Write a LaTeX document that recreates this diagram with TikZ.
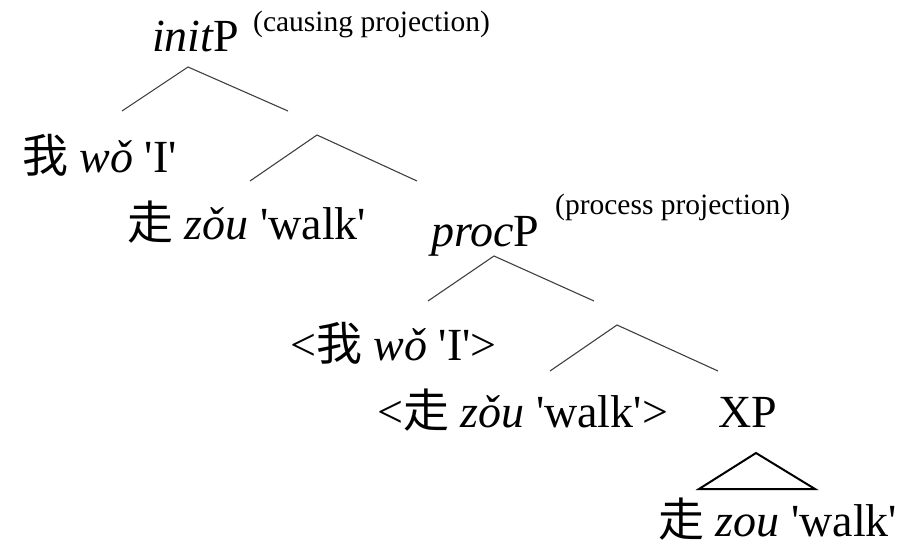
\documentclass[tikz,border=0pt]{standalone}
\usepackage{fontspec}
\newfontfamily\tms{Liberation Serif}
\newfontfamily\cjk{Noto Sans CJK SC}
\begin{document}
\begin{tikzpicture}[x=1pt,y=-1pt,
  lbl/.style={anchor=base west, inner sep=0pt, font=\tms\fontsize{46}{55}\selectfont},
  note/.style={anchor=base west, inner sep=0pt, font=\tms\fontsize{29.5}{35}\selectfont},
  branch/.style={draw=black!75, line width=1.1pt},
  roof/.style={draw=black, line width=2pt, line join=miter}]
\useasboundingbox (0,0) rectangle (906,548);

% labels
\node[lbl]  (initP) at (152,52)  {\itshape init\upshape P};
\node[note] (cause) at (253,32)  {(causing projection)};
\node[lbl]  (wo)    at (22,173)  {{\cjk 我} \textit{wǒ} 'I'};
\node[lbl]  (zou)   at (127,240) {{\cjk 走} \textit{zǒu} 'walk'};
\node[lbl]  (procP) at (431,247) {\itshape proc\upshape P};
\node[note] (proc)  at (555,215) {(process projection)};
\node[lbl]  (wot)   at (290,360) {<{\cjk 我} \textit{wǒ} 'I'>};
\node[lbl]  (zout)  at (377,428) {<{\cjk 走} \textit{zǒu} 'walk'>};
\node[lbl]  (XP)    at (718,428) {XP};
\node[lbl, text depth=0pt] (zoux) at (658,536) {{\cjk 走} \textit{zou} 'walk'};

% branching points
\coordinate (a1) at (188,67);  \coordinate (a1l) at (122,111); \coordinate (a1r) at (288,111);
\coordinate (a2) at (317,135); \coordinate (a2l) at (250,181); \coordinate (a2r) at (417,181);
\coordinate (a3) at (494,256); \coordinate (a3l) at (428,301); \coordinate (a3r) at (594,301);
\coordinate (a4) at (617,325); \coordinate (a4l) at (550,371); \coordinate (a4r) at (718,371);
\coordinate (t)  at (756,453); \coordinate (tl)  at (699,489); \coordinate (tr)  at (815,489);

\draw[branch] (a1l) -- (a1) -- (a1r);
\draw[branch] (a2l) -- (a2) -- (a2r);
\draw[branch] (a3l) -- (a3) -- (a3r);
\draw[branch] (a4l) -- (a4) -- (a4r);
\draw[roof] (tl) -- (t) -- (tr) -- cycle;
\end{tikzpicture}
\end{document}
